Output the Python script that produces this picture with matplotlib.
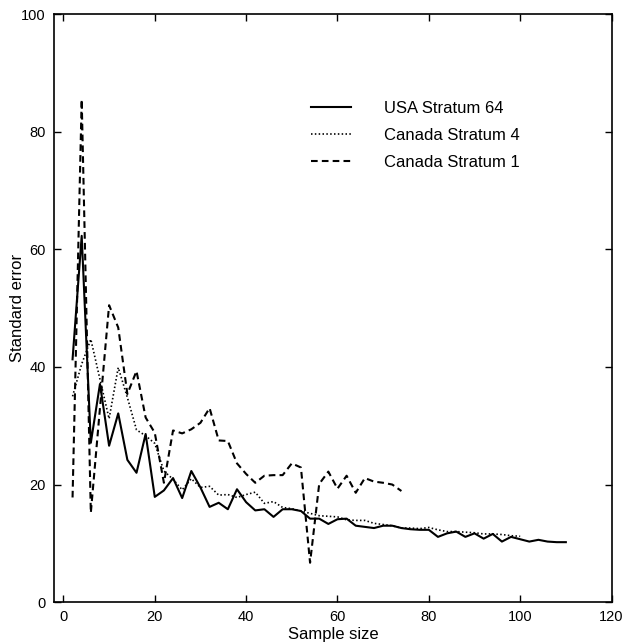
import matplotlib
matplotlib.use('Agg')
import matplotlib.pyplot as plt

plt.rcParams['font.family'] = ['Liberation Sans', 'DejaVu Sans']

# Datos
usa_x = list(range(2, 111, 2))
usa_se = [41.3, 62.3, 27.1, 37.1, 26.6, 32.1, 24.2, 22.0, 28.6, 17.9,
          19.0, 21.1, 17.7, 22.3, 19.5, 16.2, 16.9, 15.8, 19.2, 17.0,
          15.6, 15.8, 14.5, 15.8, 15.8, 15.5, 14.2, 14.2, 13.3, 14.1,
          14.2, 13.0, 12.8, 12.6, 13.0, 13.0, 12.6, 12.4, 12.3, 12.3,
          11.1, 11.7, 12.0, 11.1, 11.7, 10.8, 11.6, 10.3, 11.1, 10.7,
          10.3, 10.6, 10.3, 10.2, 10.2]

can4_x = list(range(2, 101, 2))
can4_se = [35.0, 40.5, 44.7, 37.9, 31.2, 39.9, 34.8, 29.3, 28.3, 27.0,
           22.3, 20.9, 19.1, 21.0, 19.5, 19.7, 18.2, 18.3, 17.8, 18.3,
           18.7, 16.8, 17.1, 16.1, 15.9, 15.5, 15.1, 14.7, 14.6, 14.5,
           14.0, 13.9, 13.9, 13.4, 13.2, 13.0, 12.6, 12.6, 12.5, 12.7,
           12.3, 12.0, 12.0, 11.9, 11.8, 11.6, 11.6, 11.5, 11.3, 11.2]

can1_x = list(range(2, 75, 2))
can1_se = [17.8, 85.5, 15.2, 33.0, 50.5, 46.7, 35.4, 39.3, 31.4, 28.8,
           20.3, 29.2, 28.7, 29.4, 30.5, 33.0, 27.5, 27.4, 23.6, 21.8,
           20.3, 21.5, 21.6, 21.6, 23.6, 22.9, 6.7, 20.1, 22.2, 19.3,
           21.5, 18.6, 21.1, 20.5, 20.3, 20.0, 18.9]

x_ticks = [0, 20, 40, 60, 80, 100, 120]
y_ticks = [0, 20, 40, 60, 80, 100]

fig = plt.figure(figsize=(6.24, 6.44), dpi=100)
ax = fig.add_axes([0.087, 0.065, 0.893, 0.913])

ax.plot(usa_x, usa_se, color='black', lw=1.5, label='USA Stratum 64')
ax.plot(can4_x, can4_se, color='black', lw=1.2, dashes=(0.9, 1.4),
        label='Canada Stratum 4')
ax.plot(can1_x, can1_se, color='black', lw=1.5, dashes=(3.2, 2.0),
        label='Canada Stratum 1')

ax.set_xlim(-2, 120)
ax.set_ylim(0, 100)
ax.set_xticks(x_ticks)
ax.set_yticks(y_ticks)
ax.tick_params(direction='in', length=5, width=1, labelsize=10.5,
               top=True, right=True, pad=6)
for s in ax.spines.values():
    s.set_linewidth(1.2)

ax.set_xlabel('Sample size', fontsize=12, labelpad=2)
ax.set_ylabel('Standard error', fontsize=12, labelpad=-3)

ax.legend(loc='upper left', bbox_to_anchor=(0.46, 0.852), frameon=False,
          fontsize=12, handlelength=2.4, handletextpad=2.0,
          labelspacing=0.72, borderpad=0, borderaxespad=0)

plt.savefig('out.png', dpi=100)
